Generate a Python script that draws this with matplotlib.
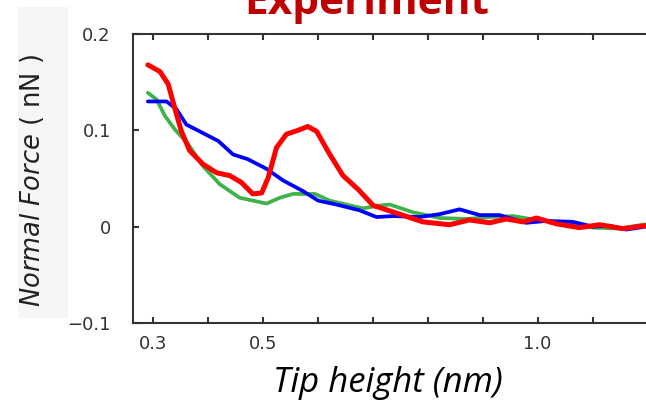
#python 3
# Normal force vs tip height (experiment)

import numpy as np
import matplotlib
matplotlib.use('Agg')
import matplotlib.pyplot as plt
from matplotlib.patches import Rectangle

# --- data (tip height in nm, force in nN) ---
red_x = [0.291, 0.313, 0.328, 0.340, 0.352, 0.367, 0.391, 0.416, 0.440, 0.461,
         0.482, 0.498, 0.510, 0.525, 0.543, 0.564, 0.582, 0.598, 0.622, 0.646,
         0.673, 0.701, 0.728, 0.749, 0.791, 0.840, 0.876, 0.913, 0.943, 0.973,
         0.998, 1.034, 1.076, 1.113, 1.155, 1.196, 1.23]
red_y = [0.168, 0.161, 0.148, 0.123, 0.099, 0.079, 0.065, 0.056, 0.053, 0.046,
         0.034, 0.035, 0.051, 0.082, 0.096, 0.100, 0.104, 0.099, 0.075, 0.053,
         0.039, 0.022, 0.017, 0.013, 0.005, 0.002, 0.007, 0.004, 0.008, 0.005,
         0.009, 0.003, -0.001, 0.002, -0.002, 0.001, 0.001]

blue_x = [0.291, 0.325, 0.343, 0.361, 0.385, 0.419, 0.446, 0.473, 0.507, 0.537,
          0.573, 0.601, 0.634, 0.676, 0.707, 0.737, 0.785, 0.822, 0.858, 0.895,
          0.931, 0.979, 1.016, 1.064, 1.101, 1.131, 1.161, 1.196, 1.23]
blue_y = [0.130, 0.130, 0.122, 0.106, 0.099, 0.089, 0.075, 0.070, 0.060, 0.048,
          0.037, 0.027, 0.023, 0.017, 0.010, 0.011, 0.010, 0.013, 0.018, 0.012,
          0.012, 0.004, 0.006, 0.005, 0.000, 0.001, -0.003, 0.000, 0.000]

green_x = [0.291, 0.307, 0.322, 0.340, 0.364, 0.391, 0.422, 0.458, 0.507, 0.531,
           0.555, 0.595, 0.622, 0.652, 0.682, 0.713, 0.731, 0.773, 0.822, 0.870,
           0.913, 0.955, 0.998, 1.046, 1.101, 1.149, 1.191, 1.23]
green_y = [0.139, 0.132, 0.115, 0.101, 0.086, 0.063, 0.044, 0.030, 0.024, 0.030,
           0.034, 0.034, 0.027, 0.023, 0.019, 0.022, 0.023, 0.015, 0.009, 0.008,
           0.010, 0.011, 0.007, 0.004, -0.001, -0.002, 0.002, 0.003]

xticks = [0.3, 0.4, 0.5, 0.6, 0.7, 0.8, 0.9, 1.0, 1.1, 1.2]
xticklabels = ['0.3', '', '0.5', '', '', '', '', '1.0', '', '']
yticks = [-0.1, 0, 0.1, 0.2]
yticklabels = ['\u22120.1', '0', '0.1', '0.2']

plt.rcParams['mathtext.fontset'] = 'custom'
plt.rcParams['mathtext.it'] = 'DejaVu Sans:italic'
plt.rcParams['mathtext.rm'] = 'DejaVu Sans'

fig = plt.figure(figsize=(6.46, 4.04), dpi=100)

# light grey panel behind the y label
fig.patches.append(Rectangle((0.028, 0.213), 0.077, 0.77, transform=fig.transFigure,
                             facecolor='#f6f6f6', edgecolor='none', zorder=0))

ax = fig.add_axes([0.2059, 0.2005, 0.839, 0.7153])
ax.set_facecolor('none')

ax.plot(green_x, green_y, color='#3fb34a', lw=2.7, solid_joinstyle='round', solid_capstyle='round')
ax.plot(blue_x, blue_y, color='#0000ff', lw=2.7, solid_joinstyle='round', solid_capstyle='round')
ax.plot(red_x, red_y, color='#ff0000', lw=3.6, solid_joinstyle='round', solid_capstyle='round')

ax.set_xlim(0.264, 1.25)
ax.set_ylim(-0.1, 0.2)
ax.set_xticks(xticks)
ax.set_xticklabels(xticklabels)
ax.set_yticks(yticks)
ax.set_yticklabels(yticklabels)

for s in ax.spines.values():
    s.set_color('#333333')
    s.set_linewidth(1.5)
ax.tick_params(axis='both', direction='in', length=4, width=1.5, color='#333333',
               labelcolor='#333333', labelsize=13, top=True, right=False)
ax.tick_params(axis='x', pad=9)
ax.tick_params(axis='y', pad=16)

fig.text(0.050, 0.554, r'$\mathit{Normal\ Force}$ ( nN )', rotation=90,
         ha='center', va='center', fontsize=18.5, color='#222222')

fig.text(0.600, 1 - 392 / 404, 'Tip height (nm)', ha='center', va='baseline',
         fontsize=25, style='italic', family='Open Sans')

fig.text(0.568, 1 - 14 / 404, 'Experiment', ha='center', va='baseline',
         fontsize=30.5, weight='bold', family='Open Sans', color='#c00000')

fig.savefig('out.png', dpi=100)
